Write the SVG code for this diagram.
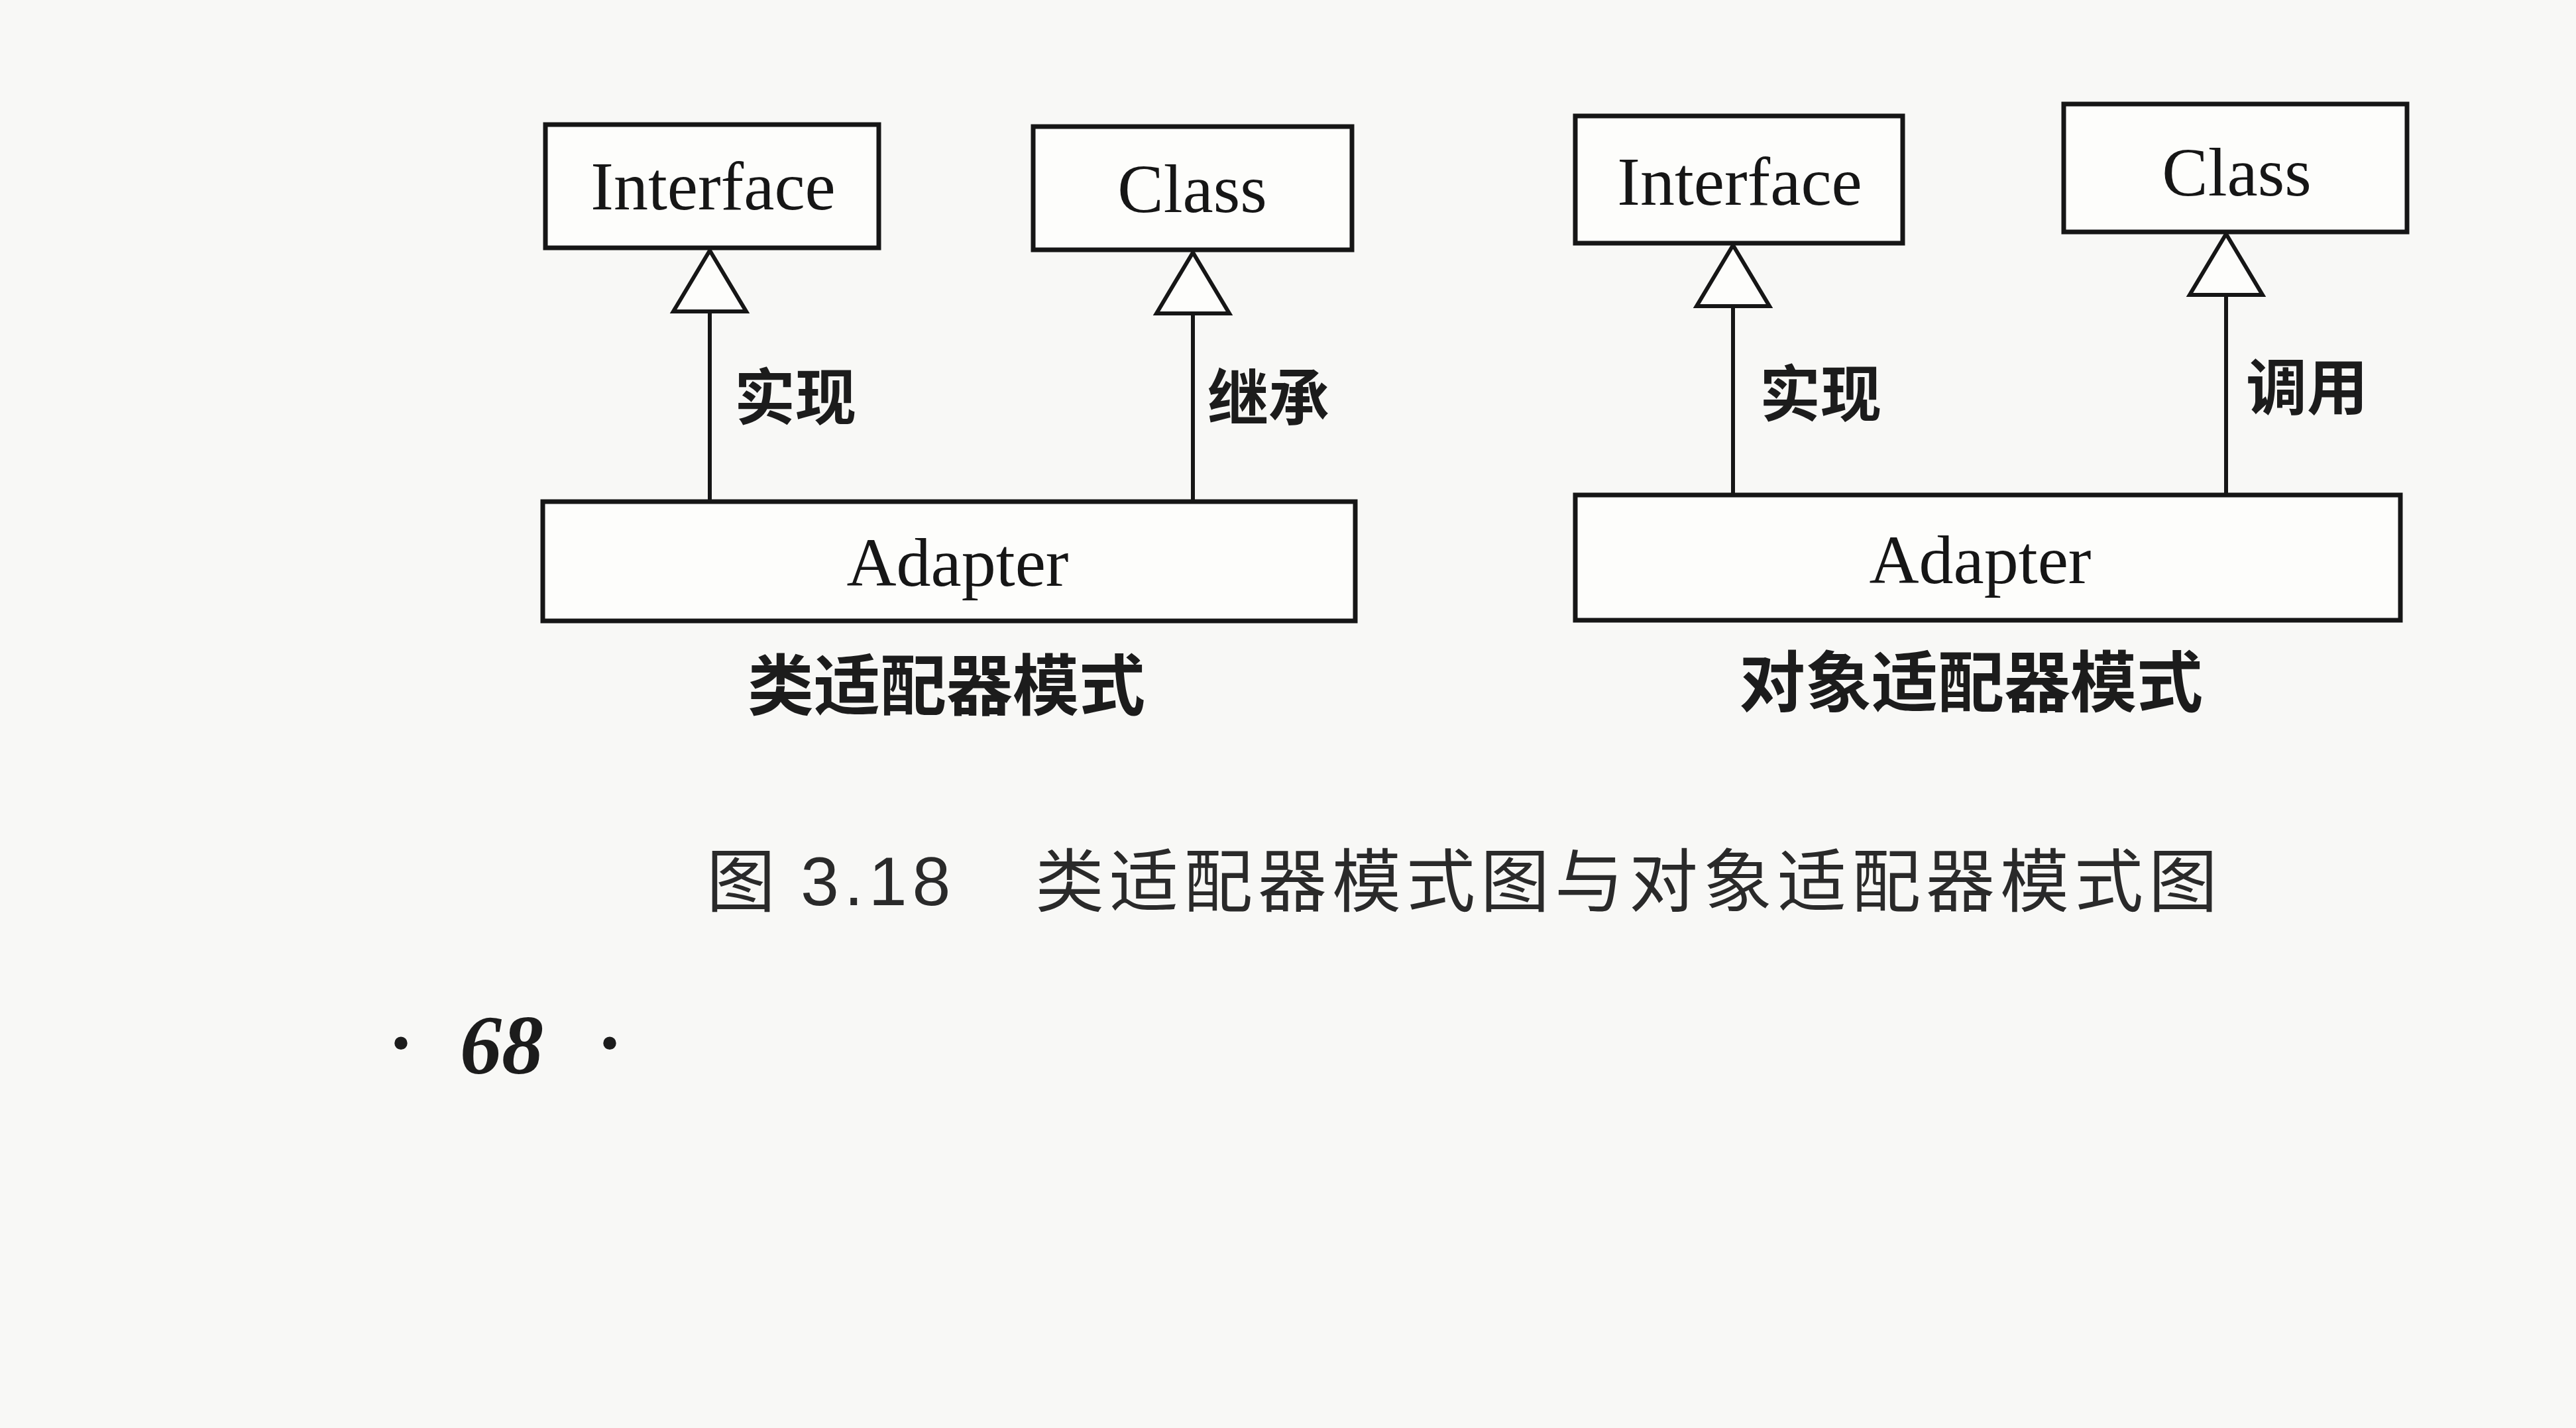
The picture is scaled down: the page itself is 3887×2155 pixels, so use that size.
<svg xmlns="http://www.w3.org/2000/svg" width="3887" height="2155" viewBox="0 0 3887 2155">
<style>
.box{fill:#fdfdfb;stroke:#161616;stroke-width:7}
.en{font-family:"Liberation Serif","Times New Roman",serif;font-size:104px;fill:#161616;text-anchor:middle}
.lbl{font-family:"Noto Sans CJK SC",sans-serif;font-weight:700;font-size:92px;fill:#1c1c1c}
.ttl{font-family:"Noto Sans CJK SC",sans-serif;font-weight:700;font-size:100px;fill:#1c1c1c;text-anchor:middle}
.cap{font-family:"Noto Sans CJK SC","Liberation Sans",sans-serif;font-size:104px;fill:#2a2a2a}
.edge{stroke:#161616;stroke-width:6;fill:none}
</style>
<defs>
<marker id="tri" markerUnits="userSpaceOnUse" viewBox="-6 -62 104 124" markerWidth="104" markerHeight="124" refX="92" refY="0" orient="auto">
<path d="M0,-55 L92,0 L0,55 Z" fill="#fdfdfb" stroke="#161616" stroke-width="6" stroke-linejoin="miter"/>
</marker>
</defs>
<rect width="3887" height="2155" fill="#f8f8f6"/>

<g id="connectors">
<line class="edge" x1="1071" y1="756" x2="1071" y2="378" marker-end="url(#tri)"/>
<line class="edge" x1="1800" y1="756" x2="1800" y2="381" marker-end="url(#tri)"/>
<line class="edge" x1="2615" y1="746" x2="2615" y2="370" marker-end="url(#tri)"/>
<line class="edge" x1="3359" y1="746" x2="3359" y2="353" marker-end="url(#tri)"/>
<text class="lbl" x="1108" y="633">实现</text>
<text class="lbl" x="1822" y="634">继承</text>
<text class="lbl" x="2655" y="628">实现</text>
<text class="lbl" x="3389" y="618">调用</text>
</g>

<g id="left-interface">
<rect class="box" x="823" y="188" width="503" height="186"/>
<text class="en" x="1076" y="316">Interface</text>
</g>
<g id="left-class">
<rect class="box" x="1559" y="191" width="481" height="186"/>
<text class="en" x="1799" y="320">Class</text>
</g>
<g id="left-adapter">
<rect class="box" x="819" y="757" width="1226" height="180"/>
<text class="en" x="1445" y="884">Adapter</text>
</g>
<text class="ttl" x="1428" y="1071">类适配器模式</text>

<g id="right-interface">
<rect class="box" x="2377" y="175" width="494" height="192"/>
<text class="en" x="2625" y="309">Interface</text>
</g>
<g id="right-class">
<rect class="box" x="3114" y="157" width="518" height="193"/>
<text class="en" x="3375" y="295">Class</text>
</g>
<g id="right-adapter">
<rect class="box" x="2377" y="747" width="1245" height="189"/>
<text class="en" x="2988" y="880">Adapter</text>
</g>
<text class="ttl" x="2974" y="1066">对象适配器模式</text>

<text class="cap" x="1066" y="1368">图</text>
<text class="cap" x="1208" y="1366" style="font-family:'Liberation Sans',sans-serif;font-size:104px" letter-spacing="8">3.18</text>
<text class="cap" x="1562" y="1368" letter-spacing="8">类适配器模式图与对象适配器模式图</text>

<text x="605" y="1614" style="font-family:'Liberation Serif',serif;font-size:120px;font-weight:700;fill:#1c1c1c" text-anchor="middle">·</text>
<text x="757" y="1620" style="font-family:'Liberation Serif',serif;font-size:126px;font-weight:700;font-style:italic;fill:#1c1c1c" text-anchor="middle">68</text>
<text x="920" y="1614" style="font-family:'Liberation Serif',serif;font-size:120px;font-weight:700;fill:#1c1c1c" text-anchor="middle">·</text>
</svg>
